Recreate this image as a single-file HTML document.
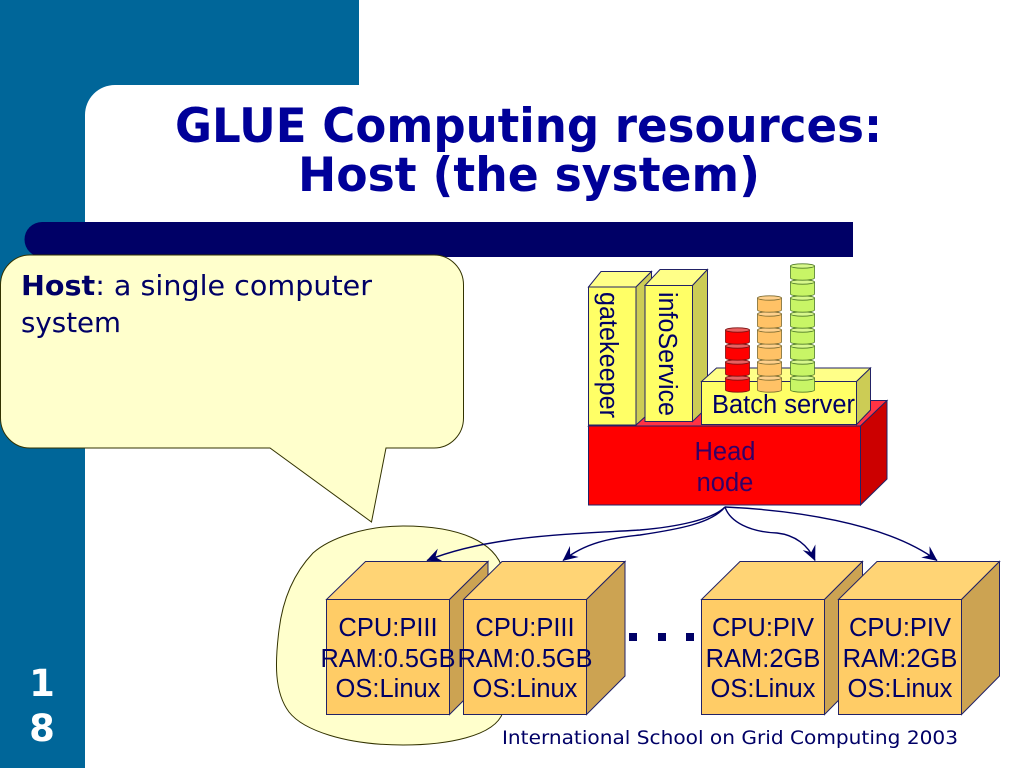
<!DOCTYPE html>
<html>
<head>
<meta charset="utf-8">
<style>
html,body{margin:0;padding:0;background:#fff;width:1024px;height:768px;overflow:hidden}
svg{display:block}
.a{font-family:"Liberation Sans",Arial,sans-serif;font-size:25.500px;fill:#000066}
.d{font-family:"DejaVu Sans",Verdana,sans-serif;fill:#000066}
</style>
</head>
<body>
<svg width="1024" height="768" viewBox="0 0 1024 768" xmlns="http://www.w3.org/2000/svg">
<defs>
<marker id="ah" viewBox="0 0 14 14" refX="13.500" refY="7" markerWidth="15" markerHeight="15" markerUnits="userSpaceOnUse" orient="auto">
<path d="M0 0.500 L14 7 L0 13.500 L5 7 Z" fill="#000066"/>
</marker>
<g id="cyl-r"><path d="M725.500 330 V342 A12 2.200 0 0 0 749.500 342 V330 Z" fill="#FF0000" stroke="#7A1010" stroke-width="0.800"/><ellipse cx="737.500" cy="330" rx="12" ry="2.200" fill="#E86060" stroke="#7A1010" stroke-width="0.800"/></g>
<g id="cyl-o"><path d="M757.500 330 V342 A12 2.200 0 0 0 781.500 342 V330 Z" fill="#FFC266" stroke="#7A6A30" stroke-width="0.800"/><ellipse cx="769.500" cy="330" rx="12" ry="2.200" fill="#FFD08C" stroke="#7A6A30" stroke-width="0.800"/></g>
<g id="cyl-g"><path d="M790.500 330 V342 A12 2.200 0 0 0 814.500 342 V330 Z" fill="#C8F566" stroke="#4F7A28" stroke-width="0.800"/><ellipse cx="802.500" cy="330" rx="12" ry="2.200" fill="#D8F88C" stroke="#4F7A28" stroke-width="0.800"/></g>
</defs>

<!-- background -->
<path d="M0 0 H359 V85 H115 A30 30 0 0 0 85 115 V768 H0 Z" fill="#006699"/>
<path d="M42 222 H853 V257 H42 A17.500 17.500 0 0 1 42 222 Z" fill="#000066"/>

<!-- title -->
<text class="d" x="175" y="142" font-size="47.500" font-weight="bold" style="fill:#000099" textLength="707" lengthAdjust="spacingAndGlyphs">GLUE Computing resources:</text>
<text class="d" x="298" y="191" font-size="47.500" font-weight="bold" style="fill:#000099" textLength="462" lengthAdjust="spacingAndGlyphs">Host (the system)</text>

<!-- callout -->
<path d="M30 255 H434 A29.500 30 0 0 1 463.500 285 V418 A29.500 30 0 0 1 434 448 H386 L371.500 522 L270 448 H30 A29.500 30 0 0 1 0.500 418 V285 A29.500 30 0 0 1 30 255 Z" fill="#FFFFCC" stroke="#333300" stroke-width="1"/>
<text class="d" x="21" y="295" font-size="27.500" textLength="351" lengthAdjust="spacingAndGlyphs"><tspan font-weight="bold">Host</tspan>: a single computer</text>
<text class="d" x="21" y="332" font-size="27.500" textLength="100" lengthAdjust="spacingAndGlyphs">system</text>

<!-- highlight blob -->
<path d="M403 526 C365 526 330 538 313 553 C295 572 283 597 279 630 C275 662 274 692 289 712 C303 730 345 745 403 745 C445 745 495 737 503 712 L503 570 C495 542 460 526 403 526 Z" fill="#FFFFCC" stroke="#333300" stroke-width="1"/>

<!-- head node -->
<path d="M588.500 426 L614 400.500 H887 L860.500 426 Z" fill="#FF3344" stroke="#222266"/>
<path d="M860.500 426 L887 400.500 V479 L860.500 505 Z" fill="#CC0000" stroke="#222266"/>
<rect x="588.500" y="426" width="272" height="79" fill="#FF0000" stroke="#222266"/>
<text class="a" x="725" y="460" text-anchor="middle" style="fill:#330066">Head</text>
<text class="a" x="725" y="491" text-anchor="middle" style="fill:#330066">node</text>

<!-- gatekeeper -->
<path d="M588.500 287 L601 271.500 H651.500 L636 287 Z" fill="#FFFF88" stroke="#222266"/>
<path d="M636 287 L651.500 271.500 V411 L636 425 Z" fill="#CCCC55" stroke="#222266"/>
<rect x="588.500" y="287" width="47.500" height="138" fill="#FFFF66" stroke="#222266"/>
<text class="a" transform="translate(600,292) rotate(90)" textLength="126" lengthAdjust="spacingAndGlyphs">gatekeeper</text>

<!-- infoService -->
<path d="M645 285.500 L660 269.500 H707.500 L692.500 285.500 Z" fill="#FFFF88" stroke="#222266"/>
<path d="M692.500 285.500 L707.500 269.500 V407 L692.500 421.500 Z" fill="#CCCC55" stroke="#222266"/>
<rect x="645" y="285.500" width="47.500" height="136" fill="#FFFF66" stroke="#222266"/>
<text class="a" transform="translate(659,292) rotate(90)" textLength="124" lengthAdjust="spacingAndGlyphs">infoService</text>

<!-- batch server -->
<path d="M701.500 381.500 L716.500 368 H870.500 L856.500 381.500 Z" fill="#FFFF88" stroke="#222266"/>
<path d="M856.500 381.500 L870.500 368 V410 L856.500 424.500 Z" fill="#CCCC55" stroke="#222266"/>
<rect x="701.500" y="381.500" width="155" height="43" fill="#FFFF66" stroke="#222266"/>

<!-- cylinders -->
<use href="#cyl-r" y="48"/><use href="#cyl-r" y="32"/><use href="#cyl-r" y="16"/><use href="#cyl-r" y="0"/>
<use href="#cyl-o" y="48"/><use href="#cyl-o" y="32"/><use href="#cyl-o" y="16"/><use href="#cyl-o" y="0"/><use href="#cyl-o" y="-16"/><use href="#cyl-o" y="-32"/>
<use href="#cyl-g" y="48"/><use href="#cyl-g" y="32"/><use href="#cyl-g" y="16"/><use href="#cyl-g" y="0"/><use href="#cyl-g" y="-16"/><use href="#cyl-g" y="-32"/><use href="#cyl-g" y="-48"/><use href="#cyl-g" y="-64"/>

<text class="a" x="712" y="413" textLength="143" lengthAdjust="spacingAndGlyphs">Batch server</text>

<!-- connectors -->
<g fill="none" stroke="#000066" stroke-width="1.400">
<path d="M725 507 C712 520 675 527 640 530 C575 534 490 535 427 560.500" marker-end="url(#ah)"/>
<path d="M725 507 C712 523 680 529 640 535 C610 538 585 543 563 560.500" marker-end="url(#ah)"/>
<path d="M725 507 C730 522 750 532 777 533 C795 535 808 545 815 560.500" marker-end="url(#ah)"/>
<path d="M725 507 C790 510 885 522 937 560.500" marker-end="url(#ah)"/>
</g>

<!-- cubes -->
<g stroke="#222266" stroke-width="1">
<path d="M326.500 599.500 L365.500 561.500 H488 L449.500 599.500 Z" fill="#FFD475"/>
<path d="M449.500 599.500 L488 561.500 V676 L449.500 714.500 Z" fill="#CCA352"/>
<rect x="326.500" y="599.500" width="123" height="115" fill="#FFCC66"/>

<path d="M463.500 599.500 L502 561.500 H625 L586.500 599.500 Z" fill="#FFD475"/>
<path d="M586.500 599.500 L625 561.500 V676 L586.500 714.500 Z" fill="#CCA352"/>
<rect x="463.500" y="599.500" width="123" height="115" fill="#FFCC66"/>

<path d="M701.500 599.500 L740 561.500 H862.500 L824.500 599.500 Z" fill="#FFD475"/>
<path d="M824.500 599.500 L862.500 561.500 V676 L824.500 714.500 Z" fill="#CCA352"/>
<rect x="701.500" y="599.500" width="123" height="115" fill="#FFCC66"/>

<path d="M838.500 599.500 L877 561.500 H999.500 L961.500 599.500 Z" fill="#FFD475"/>
<path d="M961.500 599.500 L999.500 561.500 V676 L961.500 714.500 Z" fill="#CCA352"/>
<rect x="838.500" y="599.500" width="123" height="115" fill="#FFCC66"/>
</g>

<g text-anchor="middle">
<text class="a" x="388" y="636">CPU:PIII</text>
<text class="a" x="388" y="667" textLength="135" lengthAdjust="spacingAndGlyphs">RAM:0.5GB</text>
<text class="a" x="388" y="697">OS:Linux</text>
<text class="a" x="525" y="636">CPU:PIII</text>
<text class="a" x="525" y="667" textLength="135" lengthAdjust="spacingAndGlyphs">RAM:0.5GB</text>
<text class="a" x="525" y="697">OS:Linux</text>
<text class="a" x="763" y="636">CPU:PIV</text>
<text class="a" x="763" y="667">RAM:2GB</text>
<text class="a" x="763" y="697">OS:Linux</text>
<text class="a" x="900" y="636">CPU:PIV</text>
<text class="a" x="900" y="667">RAM:2GB</text>
<text class="a" x="900" y="697">OS:Linux</text>
</g>

<!-- dots -->
<rect x="629" y="633" width="8" height="8" fill="#000066"/>
<rect x="658" y="633" width="8" height="8" fill="#000066"/>
<rect x="686" y="633" width="8" height="8" fill="#000066"/>

<!-- footer -->
<text class="d" x="502" y="744" font-size="19" textLength="456" lengthAdjust="spacingAndGlyphs">International School on Grid Computing 2003</text>

<!-- slide number -->
<text x="42" y="696" text-anchor="middle" font-family="'DejaVu Sans',sans-serif" font-weight="bold" font-size="37" fill="#FFFFFF">1</text>
<text x="42" y="741" text-anchor="middle" font-family="'DejaVu Sans',sans-serif" font-weight="bold" font-size="37" fill="#FFFFFF">8</text>
</svg>
</body>
</html>
